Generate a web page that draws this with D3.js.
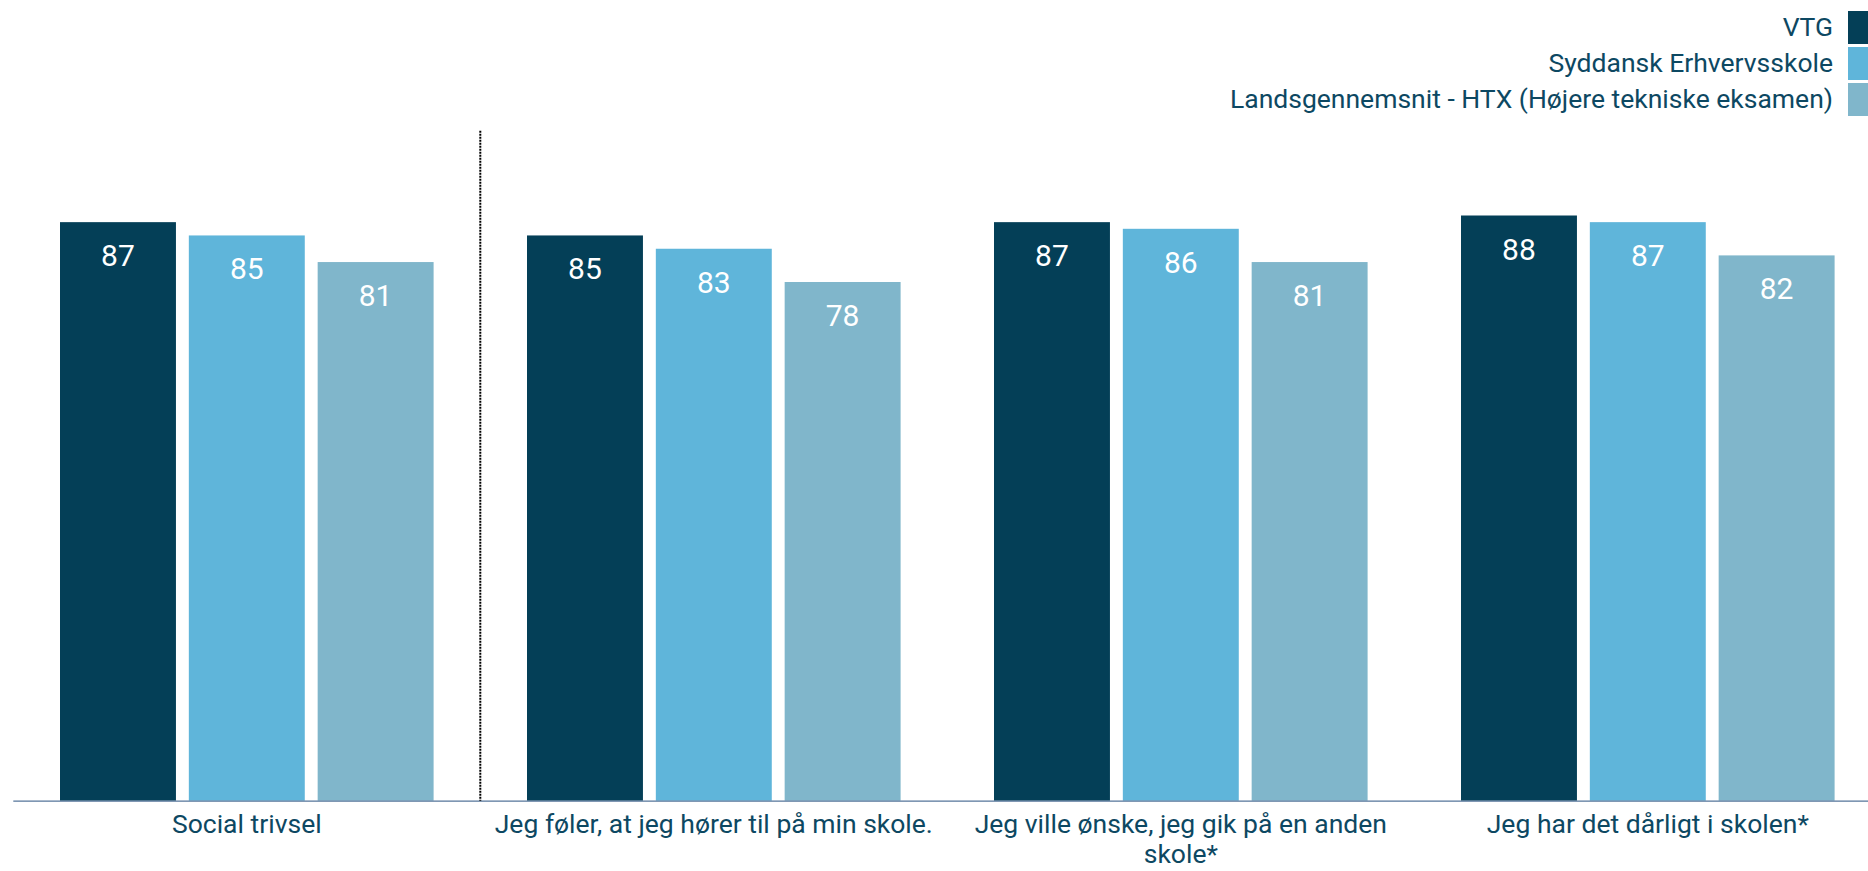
<!DOCTYPE html>
<html>
<head>
    <meta charset="utf-8">
    <title>Social trivsel</title>
    <script src="https://d3js.org/d3.v7.min.js"></script>
    <style>
        body { margin: 0; background: #ffffff; }
        svg { display: block; }
    </style>
</head>
<body>
    <script>
        // categories and series
        const categories = [
            "Social trivsel",
            "Jeg føler, at jeg hører til på min skole.",
            "Jeg ville ønske, jeg gik på en anden skole*",
            "Jeg har det dårligt i skolen*"
        ];
        const seriesNames = [
            "VTG",
            "Syddansk Erhvervsskole",
            "Landsgennemsnit - HTX (Højere tekniske eksamen)"
        ];
        const vtg = [87, 85, 87, 88];
        const syddansk = [85, 83, 86, 87];
        const landsgennemsnit = [81, 78, 81, 82];
        const seriesColors = ["#043f57", "#5fb5da", "#80b6cb"];

        const width = 1868;
        const height = 871;
        const textColor = "#0d4862";
        const font = "Roboto, 'Liberation Sans', sans-serif";

        const data = categories.map((c, i) => ({
            category: c,
            values: [vtg[i], syddansk[i], landsgennemsnit[i]]
        }));

        const svg = d3.select("body")
            .append("svg")
            .attr("width", width)
            .attr("height", height);

        // scales
        const xScale = d3.scaleBand()
            .domain(categories)
            .range([13.3, width + 13.3])
            .paddingInner(0.2)
            .paddingOuter(0.1);

        const xSub = d3.scaleBand()
            .domain(seriesNames)
            .range([0, xScale.bandwidth()])
            .paddingInner(0.1);

        const yScale = d3.scaleLinear()
            .domain([0, 100])
            .range([800.7, 135.7]);

        // bars
        const groups = svg.selectAll(".group")
            .data(data)
            .enter()
            .append("g")
            .attr("class", "group")
            .attr("transform", (d) => `translate(${xScale(d.category)},0)`);

        groups.selectAll("rect")
            .data((d) => d.values.map((v, i) => ({ name: seriesNames[i], value: v, i: i })))
            .enter()
            .append("rect")
            .attr("x", (d) => xSub(d.name))
            .attr("y", (d) => yScale(d.value))
            .attr("width", xSub.bandwidth())
            .attr("height", (d) => yScale(0) - yScale(d.value))
            .attr("fill", (d) => seriesColors[d.i]);

        // value labels
        groups.selectAll(".value-label")
            .data((d) => d.values.map((v, i) => ({ name: seriesNames[i], value: v })))
            .enter()
            .append("text")
            .attr("class", "value-label")
            .attr("x", (d) => xSub(d.name) + xSub.bandwidth() / 2)
            .attr("y", (d) => yScale(d.value) + 44)
            .attr("text-anchor", "middle")
            .attr("font-family", font)
            .attr("font-size", 30)
            .attr("fill", "#ffffff")
            .text((d) => d.value);

        // baseline
        svg.append("line")
            .attr("x1", 13.3)
            .attr("x2", width)
            .attr("y1", yScale(0) + 0.5)
            .attr("y2", yScale(0) + 0.5)
            .attr("stroke", "#54759a")
            .attr("stroke-width", 1.2);

        // dotted separator after the first group
        const sepX = xScale(categories[0]) + xScale.bandwidth() + xScale.step() * xScale.paddingInner() / 2;
        svg.append("line")
            .attr("x1", sepX)
            .attr("x2", sepX)
            .attr("y1", yScale(100) - 5)
            .attr("y2", yScale(0))
            .attr("stroke", "#000000")
            .attr("stroke-width", 2)
            .attr("stroke-dasharray", "2,1");

        // category labels, wrapped to the band step
        const maxWidth = xScale.step() - 8;
        categories.forEach((c) => {
            const cx = xScale(c) + xScale.bandwidth() / 2;
            const text = svg.append("text")
                .attr("x", cx)
                .attr("y", 833)
                .attr("text-anchor", "middle")
                .attr("font-family", font)
                .attr("font-size", 26.5)
                .attr("fill", textColor);
            const words = c.split(" ");
            let line = [];
            let tspan = text.append("tspan").attr("x", cx).attr("dy", 0);
            words.forEach((w) => {
                line.push(w);
                tspan.text(line.join(" "));
                if (tspan.node().getComputedTextLength() > maxWidth && line.length > 1) {
                    line.pop();
                    tspan.text(line.join(" "));
                    line = [w];
                    tspan = text.append("tspan").attr("x", cx).attr("dy", 30).text(w);
                }
            });
        });

        // legend
        const legend = svg.selectAll(".legend")
            .data(seriesNames)
            .enter()
            .append("g")
            .attr("class", "legend")
            .attr("transform", (d, i) => `translate(0, ${11 + i * 36})`);

        legend.append("rect")
            .attr("x", 1848)
            .attr("y", 0)
            .attr("width", 24)
            .attr("height", 33)
            .attr("fill", (d, i) => seriesColors[i]);

        legend.append("text")
            .attr("x", 1833)
            .attr("y", 25)
            .attr("text-anchor", "end")
            .attr("font-family", font)
            .attr("font-size", 26.5)
            .attr("fill", textColor)
            .text((d) => d);
    </script>
</body>
</html>
